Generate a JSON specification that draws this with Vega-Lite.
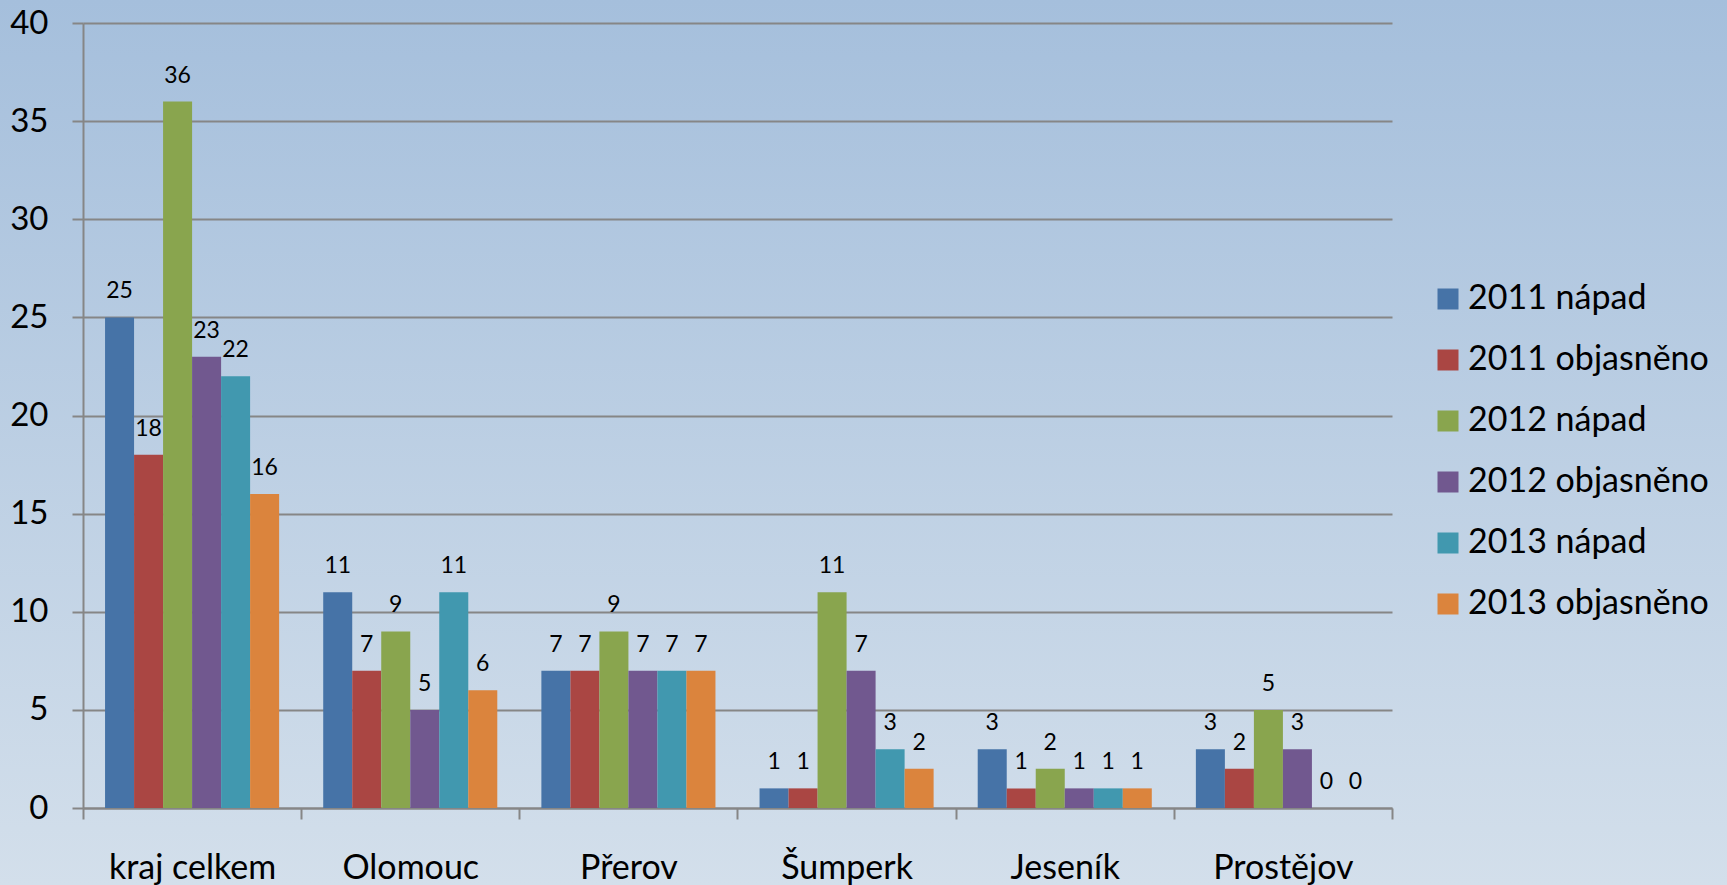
{
  "$schema": "https://vega.github.io/schema/vega-lite/v6.json",
  "width": 1727,
  "height": 885,
  "autosize": "none",
  "padding": 0,
  "background": "#bccfe4",
  "view": {
    "stroke": null,
    "fill": {
      "gradient": "linear",
      "x1": 0, "y1": 0, "x2": 0, "y2": 1,
      "stops": [
        {"offset": 0, "color": "#a5bfdc"},
        {"offset": 1, "color": "#d3dfeb"}
      ]
    }
  },
  "config": {
    "font": "Lato",
    "text": {"font": "Lato"}
  },
  "data": {
    "values": [
      {"okres": "kraj celkem", "rada": "2011 nápad", "hodnota": 25},
      {"okres": "kraj celkem", "rada": "2011 objasněno", "hodnota": 18},
      {"okres": "kraj celkem", "rada": "2012 nápad", "hodnota": 36},
      {"okres": "kraj celkem", "rada": "2012 objasněno", "hodnota": 23},
      {"okres": "kraj celkem", "rada": "2013 nápad", "hodnota": 22},
      {"okres": "kraj celkem", "rada": "2013 objasněno", "hodnota": 16},
      {"okres": "Olomouc", "rada": "2011 nápad", "hodnota": 11},
      {"okres": "Olomouc", "rada": "2011 objasněno", "hodnota": 7},
      {"okres": "Olomouc", "rada": "2012 nápad", "hodnota": 9},
      {"okres": "Olomouc", "rada": "2012 objasněno", "hodnota": 5},
      {"okres": "Olomouc", "rada": "2013 nápad", "hodnota": 11},
      {"okres": "Olomouc", "rada": "2013 objasněno", "hodnota": 6},
      {"okres": "Přerov", "rada": "2011 nápad", "hodnota": 7},
      {"okres": "Přerov", "rada": "2011 objasněno", "hodnota": 7},
      {"okres": "Přerov", "rada": "2012 nápad", "hodnota": 9},
      {"okres": "Přerov", "rada": "2012 objasněno", "hodnota": 7},
      {"okres": "Přerov", "rada": "2013 nápad", "hodnota": 7},
      {"okres": "Přerov", "rada": "2013 objasněno", "hodnota": 7},
      {"okres": "Šumperk", "rada": "2011 nápad", "hodnota": 1},
      {"okres": "Šumperk", "rada": "2011 objasněno", "hodnota": 1},
      {"okres": "Šumperk", "rada": "2012 nápad", "hodnota": 11},
      {"okres": "Šumperk", "rada": "2012 objasněno", "hodnota": 7},
      {"okres": "Šumperk", "rada": "2013 nápad", "hodnota": 3},
      {"okres": "Šumperk", "rada": "2013 objasněno", "hodnota": 2},
      {"okres": "Jeseník", "rada": "2011 nápad", "hodnota": 3},
      {"okres": "Jeseník", "rada": "2011 objasněno", "hodnota": 1},
      {"okres": "Jeseník", "rada": "2012 nápad", "hodnota": 2},
      {"okres": "Jeseník", "rada": "2012 objasněno", "hodnota": 1},
      {"okres": "Jeseník", "rada": "2013 nápad", "hodnota": 1},
      {"okres": "Jeseník", "rada": "2013 objasněno", "hodnota": 1},
      {"okres": "Prostějov", "rada": "2011 nápad", "hodnota": 3},
      {"okres": "Prostějov", "rada": "2011 objasněno", "hodnota": 2},
      {"okres": "Prostějov", "rada": "2012 nápad", "hodnota": 5},
      {"okres": "Prostějov", "rada": "2012 objasněno", "hodnota": 3},
      {"okres": "Prostějov", "rada": "2013 nápad", "hodnota": 0},
      {"okres": "Prostějov", "rada": "2013 objasněno", "hodnota": 0}
    ]
  },
  "encoding": {
    "x": {
      "field": "okres",
      "type": "nominal",
      "sort": ["kraj celkem", "Olomouc", "Přerov", "Šumperk", "Jeseník", "Prostějov"],
      "scale": {"range": [83, 1392], "paddingInner": 0, "paddingOuter": 0},
      "axis": {
        "orient": "bottom",
        "offset": -77,
        "title": null,
        "labelAngle": 0,
        "grid": false,
        "tickBand": "extent",
        "tickSize": 11,
        "tickWidth": 2,
        "tickColor": "#868686",
        "domainColor": "#868686",
        "domainWidth": 2,
        "labelFont": "Lato",
        "labelFontSize": 34,
        "labelColor": "#000000",
        "labelPadding": 32,
        "labelLimit": 400
      }
    },
    "xOffset": {
      "field": "rada",
      "type": "nominal",
      "sort": ["2011 nápad", "2011 objasněno", "2012 nápad", "2012 objasněno", "2013 nápad", "2013 objasněno"],
      "scale": {"paddingInner": 0, "paddingOuter": 0.76}
    },
    "y": {
      "field": "hodnota",
      "type": "quantitative",
      "scale": {"domain": [0, 40], "range": [808, 23], "nice": false, "zero": true},
      "axis": {
        "orient": "left",
        "offset": -83,
        "title": null,
        "values": [0, 5, 10, 15, 20, 25, 30, 35, 40],
        "grid": true,
        "gridColor": "#868686",
        "gridWidth": 2,
        "tickSize": 11,
        "tickWidth": 2,
        "tickColor": "#868686",
        "domainColor": "#868686",
        "domainWidth": 2,
        "labelFont": "Lato",
        "labelFontSize": 33,
        "labelColor": "#000000",
        "labelPadding": 24
      }
    }
  },
  "layer": [
    {
      "mark": {"type": "bar"},
      "encoding": {
        "color": {
          "field": "rada",
          "type": "nominal",
          "sort": ["2011 nápad", "2011 objasněno", "2012 nápad", "2012 objasněno", "2013 nápad", "2013 objasněno"],
          "scale": {"range": ["#4673A7", "#AA4643", "#89A54E", "#71588F", "#4198AF", "#DB843D"]},
          "legend": {
            "title": null,
            "orient": "none",
            "legendX": 1431,
            "legendY": 282,
            "symbolType": "square",
            "symbolSize": 441,
            "symbolStrokeWidth": 0,
            "labelFont": "Lato",
            "labelFontSize": 34,
            "labelColor": "#000000",
            "labelOffset": 3,
            "labelLimit": 400,
            "rowPadding": 27
          }
        }
      }
    },
    {
      "mark": {"type": "text", "baseline": "alphabetic", "dy": -19, "fontSize": 23, "color": "#000000", "font": "Lato"},
      "encoding": {
        "text": {"field": "hodnota", "type": "quantitative"}
      }
    }
  ]
}
